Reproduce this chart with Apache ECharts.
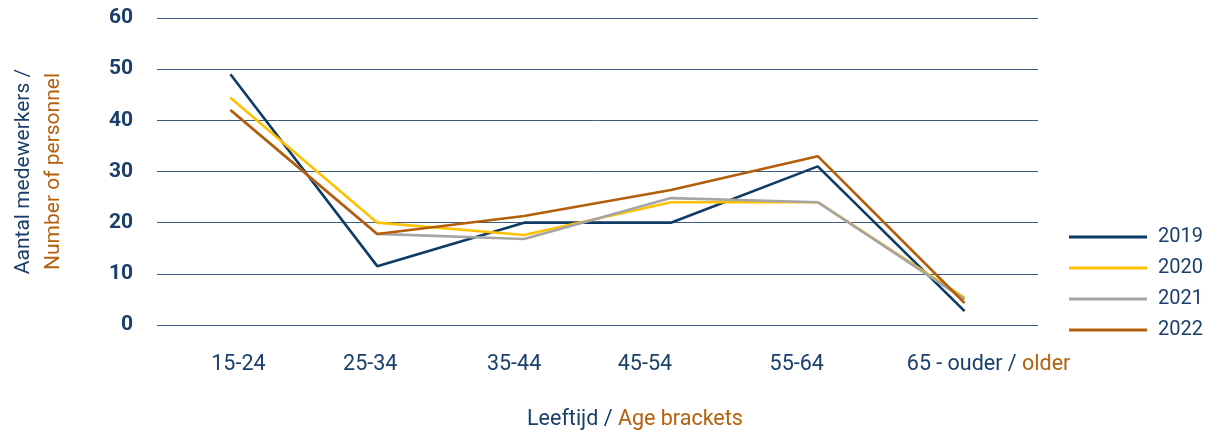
<!DOCTYPE html>
<html>
<head>
<meta charset="utf-8">
<script src="https://cdn.jsdelivr.net/npm/echarts@6/dist/echarts.min.js"></script>
<style>
html,body{margin:0;padding:0;background:#fff;}
#c{width:1210px;height:432px;}
</style>
</head>
<body>
<div id="c"></div>
<script>
const categories = ['15-24', '25-34', '35-44', '45-54', '55-64', '65 - ouder / older'];
const years = ['2019', '2020', '2021', '2022'];
const s2019 = [49, 11.5, 20, 20, 31, 2.7];
const s2020 = [44.4, 20, 17.6, 24, 24, 5.3];
const s2021 = [42, 17.8, 16.8, 24.8, 24, 5];
const s2022 = [42, 17.8, 21.3, 26.4, 33, 4.3];
const yTicks = [0, 10, 20, 30, 40, 50, 60];

const NAVY = '#1a3f6b';
const ORANGE = '#b5600c';
const colors = ['#0e3a66', '#ffc000', '#a5a5a5', '#b35e0a'];
const seriesData = [s2019, s2020, s2021, s2022];
// label shifts (padding) to match the reference label placement
const labelPad = [[0, 0, 0, 16], [0, 14, 0, 0], [0, 20, 0, 0], [0, 52, 0, 0], [0, 42, 0, 0], [0, 0, 0, 48]];
const LFS = 21.5;

const rich = {};
labelPad.forEach(function (p, i) {
  rich['n' + i] = { color: NAVY, fontSize: LFS, fontFamily: 'Roboto', padding: p };
});
rich.nL = { color: NAVY, fontSize: LFS, fontFamily: 'Roboto', padding: [0, 0, 0, 48] };
rich.o = { color: ORANGE, fontSize: LFS, fontFamily: 'Roboto' };

const chart = echarts.init(document.getElementById('c'));
chart.setOption({
  animation: false,
  textStyle: { fontFamily: 'Roboto' },
  grid: { left: 157, right: 172, top: 18, bottom: 107, containLabel: false, outerBoundsMode: 'none' },
  legend: {
    orient: 'vertical', left: 1064, top: 222,
    icon: 'rect', itemWidth: 78, itemHeight: 3, itemGap: 11,
    textStyle: { color: NAVY, fontSize: 20, fontFamily: 'Roboto', padding: [0, 0, 0, 6] },
    data: years
  },
  xAxis: {
    type: 'category', data: categories, boundaryGap: true,
    axisLine: { show: false }, axisTick: { show: false },
    axisLabel: {
      interval: 0, margin: 29, fontSize: LFS, color: NAVY,
      formatter: function (v, idx) {
        const parts = v.split(' / ');
        if (parts.length > 1) return '{nL|' + parts[0] + ' / }{o|' + parts[1] + '}';
        return '{n' + idx + '|' + v + '}';
      },
      rich: rich
    }
  },
  yAxis: {
    type: 'value', min: 0, max: 60, interval: 10,
    axisLine: { show: false }, axisTick: { show: false },
    splitLine: { lineStyle: { color: '#3a5d80', width: 1 } },
    axisLabel: {
      margin: 24, fontSize: 21, fontWeight: 'bold', color: NAVY,
      formatter: function (v) { return yTicks.indexOf(v) >= 0 ? String(v) : ''; }
    },
    name: '{a|Aantal medewerkers /}\n{b|Number of personnel}',
    nameLocation: 'middle', nameGap: 88, nameRotate: 90,
    nameTextStyle: {
      lineHeight: 30,
      rich: {
        a: { color: NAVY, fontSize: 21, fontFamily: 'Roboto', lineHeight: 30 },
        b: { color: ORANGE, fontSize: 21, fontFamily: 'Roboto', lineHeight: 30 }
      }
    }
  },
  graphic: [{
    type: 'text', left: 527, top: 409,
    style: {
      text: '{a|Leeftijd / }{b|Age brackets}',
      rich: {
        a: { fill: NAVY, fontSize: 21.5, fontFamily: 'Roboto' },
        b: { fill: ORANGE, fontSize: 21.5, fontFamily: 'Roboto' }
      }
    }
  }],
  series: years.map(function (y, i) {
    return {
      name: y, type: 'line', data: seriesData[i], symbol: 'none',
      lineStyle: { color: colors[i], width: 2.6 },
      itemStyle: { color: colors[i] }
    };
  })
});
</script>
</body>
</html>
